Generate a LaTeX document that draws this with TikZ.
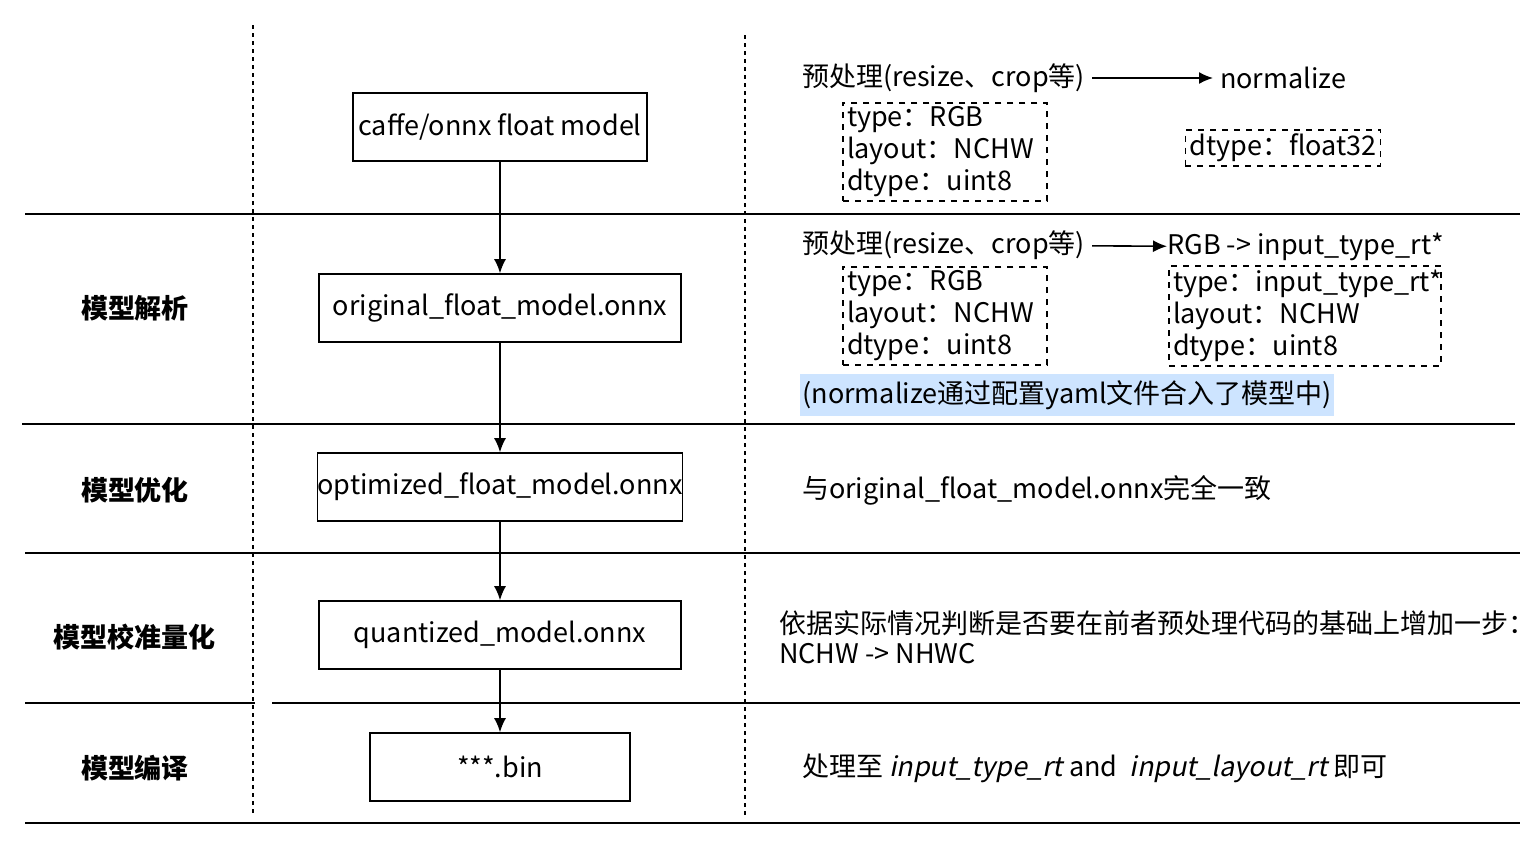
\documentclass[tikz,border=0pt]{standalone}
\usepackage{fontspec}
\setmainfont[ItalicFont={Noto Sans CJK SC}, ItalicFeatures={FakeSlant=0.2}]{Noto Sans CJK SC}
\usetikzlibrary{positioning, arrows.meta}
\definecolor{hilite}{RGB}{205,228,255}
\tikzset{
  stagebox/.style = {draw, thick, minimum height = 34pt},
  dashbox/.style = {draw, thick, dashed, align = left, inner sep = 2pt, font = \fontsize{13.5}{16}\selectfont},
  flow/.style = {-{Latex[length = 7pt, width = 6pt]}, thick},
  divider/.style = {thick},
  stagename/.style = {font = \fontsize{13.5}{16}\selectfont\bfseries},
  note/.style = {anchor = west, font = \fontsize{13.5}{16}\selectfont, align = left},
}
\begin{document}
\begin{tikzpicture}[x = 0.5pt, y = -0.5pt, font = \fontsize{13.5}{16}\selectfont]
  \useasboundingbox (0, 0) rectangle (1539, 843);
  % grid
  \draw[thick, dash pattern = on 2pt off 2pt] (253, 25)--(253, 815);
  \draw[thick, dash pattern = on 2pt off 2pt] (745, 35)--(745, 815);
  \draw[divider] (25, 214)--(1520, 214);
  \draw[divider] (22, 424)--(1515, 424);
  \draw[divider] (25, 553)--(1520, 553);
  \draw[divider] (25, 703)--(255, 703);
  \draw[divider] (272, 703)--(1520, 703);
  \draw[divider] (25, 823)--(1520, 823);
  % stages
  \node[stagebox, minimum width = 147pt, inner xsep = 1pt] (caffe) at (500, 127) {caffe/onnx float model};
  \node[stagebox, minimum width = 181pt] (orig) at (500, 308) {original\_float\_model.onnx};
  \node[stagebox, minimum width = 181pt, inner xsep = 0pt] (opt) at (500, 487) {optimized\_float\_model.onnx};
  \node[stagebox, minimum width = 181pt] (quant) at (500, 635) {quantized\_model.onnx};
  \node[stagebox, minimum width = 130pt] (bin) at (500, 767) {***.bin};
  \draw[flow] (caffe)--(orig);
  \draw[flow] (orig)--(opt);
  \draw[flow] (opt)--(quant);
  \draw[flow] (quant)--(bin);
  % names
  \node[stagename] (parse) at (135, 308) {模型解析};
  \node[stagename] (optim) at (135, 490) {模型优化};
  \node[stagename] (calib) at (135, 637) {模型校准量化};
  \node[stagename] (compile) at (135, 768) {模型编译};
  % row 1
  \node[note] (pre1) at (795, 78) {预处理(resize、crop等)};
  \node[note] (norm) at (1213, 78) {normalize};
  \draw[flow] (pre1)--(norm);
  \node[dashbox, text width = 98pt] (in1) at (945, 152) {type：RGB\\layout：NCHW\\dtype：uint8};
  \node[dashbox] (out1) at (1283, 148) {dtype：float32};
  % row 2
  \node[note] (pre2) at (795, 245) {预处理(resize、crop等)};
  \node[note, inner xsep = 0pt] (rgb) at (1167, 247) {RGB -> input\_type\_rt*};
  \draw[flow] (pre2)--(rgb);
  \node[dashbox, text width = 98pt] (in2) at (945, 316) {type：RGB\\layout：NCHW\\dtype：uint8};
  \node[dashbox, text width = 132pt] (out2) at (1305, 316) {type：input\_type\_rt*\\layout：NCHW\\dtype：uint8};
  \node[note, fill = hilite, inner xsep = 1pt] (yaml) at (800, 395) {(normalize通过配置yaml文件合入了模型中)};
  % rows 3-5
  \node[note] (same) at (795, 490) {与original\_float\_model.onnx完全一致};
  \node[note, font = \fontsize{13.5}{15}\selectfont] (nhwc) at (772, 637) {依据实际情况判断是否要在前者预处理代码的基础上增加一步：\\NCHW -> NHWC};
  \node[note] (rt) at (795, 768) {处理至 \textit{input\_type\_rt} and\ \ \textit{input\_layout\_rt} 即可};
\end{tikzpicture}
\end{document}
